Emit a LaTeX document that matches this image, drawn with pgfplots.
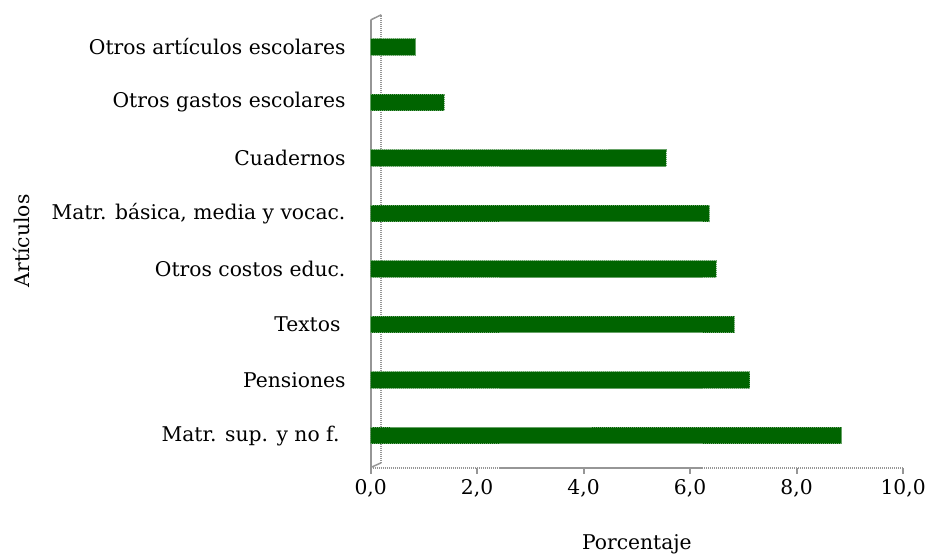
\documentclass[border=0pt]{standalone}
\usepackage{fontspec}
\setmainfont{DejaVu Serif}
\usepackage{pgfplots}
\pgfplotsset{compat=1.18}
\definecolor{bargreen}{RGB}{0,100,0}
\definecolor{axgray}{RGB}{150,150,150}
\begin{document}
\begin{tikzpicture}[font=\fontsize{20.3bp}{24bp}\selectfont]
\begin{axis}[
  name=ax,
  scale only axis,
  width=533bp, height=448bp,
  xbar, bar width=0.3,
  xmin=0, xmax=10,
  ymin=-0.576, ymax=7.486,
  xtick={0,2,...,10},
  ytick={0,...,7},
  yticklabels={Matr. sup. y no f.\hspace*{6bp}, Pensiones, Textos\hspace*{5bp}, Otros costos educ., {Matr. básica, media y vocac.}, Cuadernos, Otros gastos escolares, Otros artículos escolares},
  axis x line*=bottom, axis y line*=left,
  x axis line style={axgray, dash pattern=on 1.2bp off 0.8bp, line width=2bp},
  y axis line style={axgray, line width=2bp},
  tick align=outside,
  major tick length=6bp,
  xtick style={axgray, line width=2bp},
  ytick style={draw=none},
  scaled x ticks=false,
  xticklabel style={/pgf/number format/fixed, /pgf/number format/fixed zerofill, /pgf/number format/precision=1, /pgf/number format/use comma, /pgf/number format/assume math mode=true, yshift=-2bp},
  yticklabel style={anchor=east, inner sep=0pt, xshift=-19bp},
  xlabel={Porcentaje},
  ylabel={Artículos},
  xlabel style={at={(axis description cs:0.5,-0.1719)}, anchor=center},
  ylabel style={at={(axis description cs:-0.6548,0.5067)}, anchor=center},
  clip=false,
]
\draw[axgray, dash pattern=on 1.2bp off 0.8bp, line width=2bp] (axis cs:0.2,-0.49) -- (axis cs:0.2,7.58);
\draw[axgray, line width=1.5bp] (axis cs:0,-0.576) -- (axis cs:0.2,-0.49);
\draw[axgray, line width=1.5bp] (axis cs:0,7.486) -- (axis cs:0.2,7.58);
\addplot[fill=bargreen, draw=bargreen!60!white, dash pattern=on 1.2bp off 0.8bp, line width=1.2bp] coordinates {
  (8.85,0) (7.12,1) (6.83,2) (6.49,3) (6.36,4) (5.55,5) (1.38,6) (0.85,7)
};
\end{axis}
\path ([shift={(-371bp,-89bp)}]ax.south west) rectangle ([shift={(25bp,20bp)}]ax.north east);
\end{tikzpicture}
\end{document}
